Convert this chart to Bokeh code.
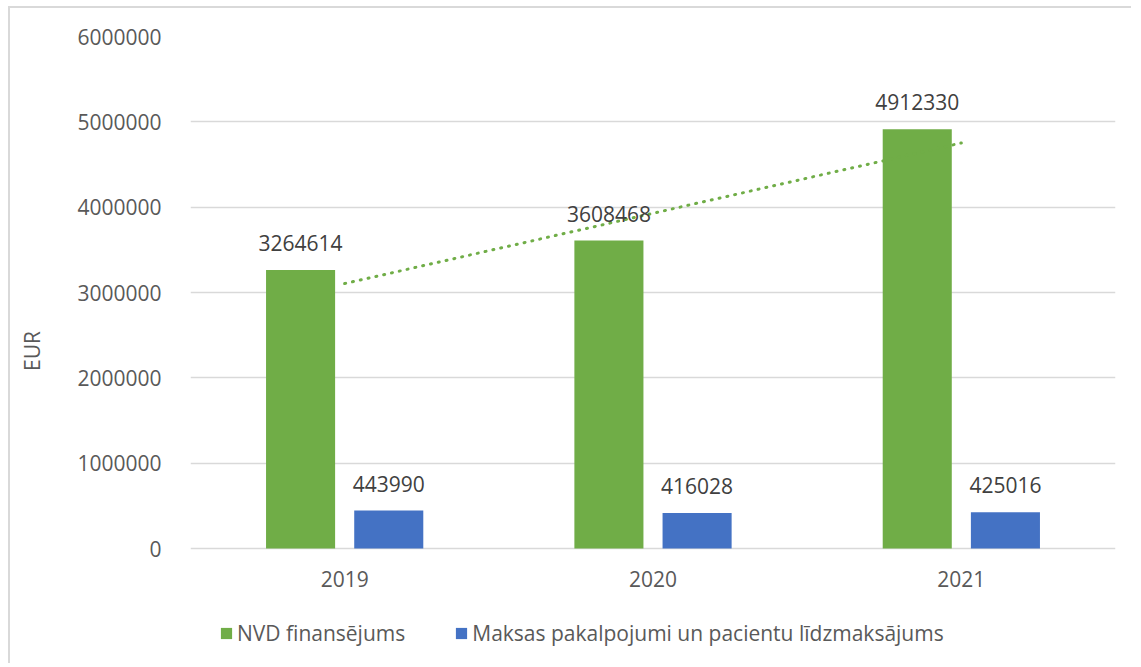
import numpy as np
from bokeh.plotting import figure
from bokeh.models import (ColumnDataSource, FactorRange, Range1d, FixedTicker,
                          NumeralTickFormatter, Legend, LegendItem, LabelSet)
from bokeh.transform import dodge
from bokeh.core.properties import value
from bokeh.embed import file_html
from bokeh.resources import INLINE

years = ["2019", "2020", "2021"]
nvd = [3264614, 3608468, 4912330]
maksas = [443990, 416028, 425016]
series_names = ["NVD finansējums", "Maksas pakalpojumi un pacientu līdzmaksājums"]
y_ticks = [0, 1000000, 2000000, 3000000, 4000000, 5000000, 6000000]

GREEN = "#70AD47"
BLUE = "#4472C4"
TXT = "#595959"
LBL = "#404040"
FONT = "Open Sans"
FS = "21px"

# layout (pixels)
W, H = 1123, 657
TOP, PLOT_H, BELOW = 28, 512, 117   # frame: 512 px for 0..6M, 117 px below zero line
y_top = y_ticks[-1]
y_bottom = -BELOW * y_top / PLOT_H

src = ColumnDataSource(data=dict(
    years=years, nvd=nvd, maksas=maksas,
    nvd_txt=[str(v) for v in nvd], maksas_txt=[str(v) for v in maksas],
    zero=[0] * len(years),
))

p = figure(x_range=FactorRange(*years), y_range=Range1d(y_bottom, y_top),
           width=W, height=H, output_backend="svg", toolbar_location=None,
           x_axis_location=None,
           min_border_left=180, min_border_right=18, min_border_top=TOP,
           min_border_bottom=0)
p.styles = {"margin-left": "8px", "margin-top": "6px",
            "border-left": "2px solid #D9D9D9", "border-top": "2px solid #D9D9D9"}
p.outline_line_color = None
p.background_fill_color = "white"

off = 0.143
bw = 0.224
r1 = p.vbar(x=dodge("years", -off, range=p.x_range), top="nvd", width=bw,
            source=src, fill_color=GREEN, line_color=None)
r2 = p.vbar(x=dodge("years", off, range=p.x_range), top="maksas", width=bw,
            source=src, fill_color=BLUE, line_color=None)

# linear trendline of the NVD series
idx = np.arange(len(nvd))
k, b = np.polyfit(idx, nvd, 1)
p.line(x=[years[0], years[-1]], y=[b + k * idx[0], b + k * idx[-1]],
       line_color=GREEN, line_width=3, line_dash="1 7", line_cap="round")

for col, txt, sign in (("nvd", "nvd_txt", -1), ("maksas", "maksas_txt", 1)):
    p.add_layout(LabelSet(x=dodge("years", sign * off, range=p.x_range), y=col,
                          text=txt, source=src, text_align="center",
                          text_baseline="middle", y_offset=27,
                          text_font=value(FONT), text_font_size=FS,
                          text_color=LBL))

# category (year) labels under the zero line
p.add_layout(LabelSet(x="years", y="zero", text="years", source=src,
                      text_align="center", text_baseline="middle", y_offset=-30,
                      text_font=value(FONT), text_font_size=FS, text_color=TXT))

p.yaxis.ticker = FixedTicker(ticks=y_ticks)
p.yaxis.formatter = NumeralTickFormatter(format="0")
p.yaxis.axis_label = "EUR"
p.yaxis.axis_label_text_font = FONT
p.yaxis.axis_label_text_font_style = "normal"
p.yaxis.axis_label_text_font_size = FS
p.yaxis.axis_label_text_color = TXT
p.yaxis.axis_label_standoff = 28
p.yaxis.axis_line_color = None
p.yaxis.major_tick_line_color = None
p.yaxis.minor_tick_line_color = None
p.yaxis.major_label_text_font = FONT
p.yaxis.major_label_text_font_size = FS
p.yaxis.major_label_text_color = TXT
p.yaxis.major_label_standoff = 23

p.xgrid.grid_line_color = None
p.ygrid.grid_line_color = "#D9D9D9"
p.ygrid.grid_line_width = 1.5

legend = Legend(items=[LegendItem(label=series_names[0], renderers=[r1]),
                       LegendItem(label=series_names[1], renderers=[r2])],
                orientation="horizontal", location=(29, 18),
                glyph_width=14, glyph_height=14, label_standoff=4, spacing=49,
                label_text_font=FONT, label_text_font_size=FS,
                label_text_color=TXT, border_line_color=None,
                background_fill_alpha=0, margin=0, padding=0)
p.add_layout(legend, "center")

open("out.html", "w").write(file_html(p, INLINE))
